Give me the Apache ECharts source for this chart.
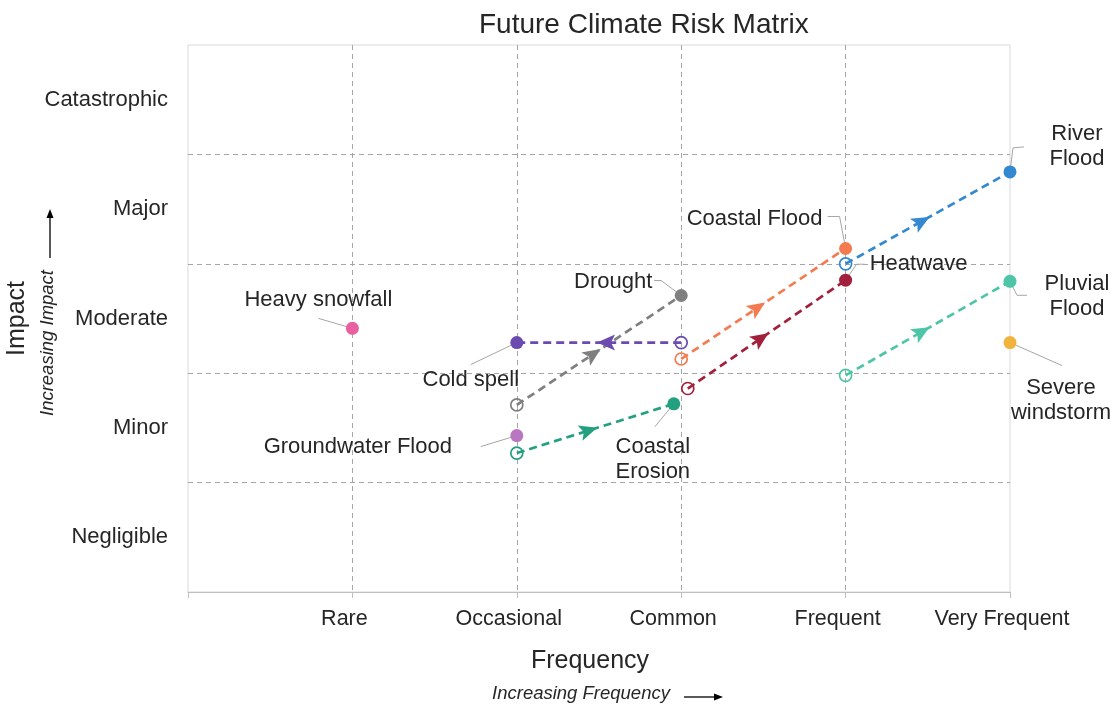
<!DOCTYPE html>
<html><head><meta charset="utf-8">
<script src="https://cdn.jsdelivr.net/npm/echarts@6/dist/echarts.min.js"></script>
<style>html,body{margin:0;padding:0;background:#fff}#main{width:1113px;height:706px}</style>
</head><body><div id="main"></div>
<script>
// ---- data ----
const freqLabels = ['', 'Rare', 'Occasional', 'Common', 'Frequent', 'Very Frequent'];
const impactLabels = ['Negligible', 'Minor', 'Moderate', 'Major', 'Catastrophic'];
const risks = ['River Flood', 'Coastal Flood', 'Heatwave', 'Pluvial Flood', 'Severe windstorm',
  'Drought', 'Cold spell', 'Heavy snowfall', 'Groundwater Flood', 'Coastal Erosion'];
const riskLabels = ['River\nFlood', 'Coastal Flood', 'Heatwave', 'Pluvial\nFlood', 'Severe\nwindstorm',
  'Drought', 'Cold spell', 'Heavy snowfall', 'Groundwater Flood', 'Coastal\nErosion'];
const currentFreq = [4, 3, 3.04, 4, null, 2, 3, null, null, 2];
const currentImpact = [3.0, 2.13, 1.86, 1.98, null, 1.71, 2.28, null, null, 1.27];
const futureFreq = [5, 4, 4, 5, 5, 3, 2, 1, 2, 2.955];
const futureImpact = [3.84, 3.14, 2.85, 2.84, 2.28, 2.71, 2.28, 2.41, 1.43, 1.72];

// ---- styles (pixel offsets of labels and leader lines, colours) ----
const colors = ['#3388d0', '#f37b4f', '#a2203b', '#4ec5a6', '#f0b43c',
  '#7f7f7f', '#6b4bb0', '#e8609f', '#b977c1', '#22a07f'];
const labelOffsets = [[67, -25], [-91, -30], [73, -16], [67, 15], [51, 58],
  [-68, -14], [-46, 37], [-34, -28], [-159, 11], [-21, 56]];
const leaderPaths = [
  [[0, 0], [3, -24], [14, -25]],
  [[0, 0], [-6, -32], [-18, -32]],
  [[0, 0], [11, -16], [19, -16]],
  [[0, 0], [7, 14], [17, 14]],
  [[0, 0], [52, 23]],
  [[0, 0], [-20, -15], [-27, -15]],
  [[0, 0], [-46, 22]],
  [[0, 0], [-34, -10]],
  [[0, 0], [-36, 11]],
  [[0, 0], [-19, 23]]
];
const FONT = '"Liberation Sans", Arial, Helvetica, sans-serif';
const TEXT = '#262626';

const trendData = [], trendColors = [], startPts = [], endPts = [];
risks.forEach((r, i) => {
  endPts.push({ name: r, value: [futureFreq[i], futureImpact[i]], itemStyle: { color: colors[i] } });
  if (currentFreq[i] != null) {
    trendData.push([currentFreq[i], currentImpact[i], futureFreq[i], futureImpact[i]]);
    trendColors.push(colors[i]);
    startPts.push({ name: r, value: [currentFreq[i], currentImpact[i]], itemStyle: { borderColor: colors[i] } });
  }
});

function renderTrend(params, api) {
  const a = api.coord([api.value(0), api.value(1)]);
  const b = api.coord([api.value(2), api.value(3)]);
  const c = trendColors[params.dataIndex];
  const dx = b[0] - a[0], dy = b[1] - a[1];
  const L = Math.hypot(dx, dy) || 1;
  const ux = dx / L, uy = dy / L, px = -uy, py = ux;
  const mx = (a[0] + b[0]) / 2, my = (a[1] + b[1]) / 2;
  const tip = [mx + ux * 2, my + uy * 2];
  const back = 18, hw = 8, notch = 14;
  const pts = [
    tip,
    [tip[0] - ux * back + px * hw, tip[1] - uy * back + py * hw],
    [tip[0] - ux * notch, tip[1] - uy * notch],
    [tip[0] - ux * back - px * hw, tip[1] - uy * back - py * hw]
  ];
  return {
    type: 'group', children: [
      { type: 'line', shape: { x1: a[0], y1: a[1], x2: b[0], y2: b[1] },
        style: { stroke: c, lineWidth: 2.7, lineDash: [8, 5], fill: null } },
      { type: 'polygon', shape: { points: pts }, style: { fill: c, stroke: null } }
    ]
  };
}

function renderLeader(params, api) {
  const p = api.coord([api.value(0), api.value(1)]);
  const path = leaderPaths[params.dataIndex];
  return {
    type: 'polyline',
    shape: { points: path.map(o => [p[0] + o[0], p[1] + o[1]]) },
    style: { stroke: '#a6a6a6', lineWidth: 1, fill: null }
  };
}

const chart = echarts.init(document.getElementById('main'));
chart.setOption({
  animation: false,
  backgroundColor: '#ffffff',
  textStyle: { fontFamily: FONT },
  title: {
    text: 'Future Climate Risk Matrix', left: 474, top: 6,
    textStyle: { fontSize: 28, fontWeight: 'normal', color: TEXT, fontFamily: FONT }
  },
  grid: {
    left: 188, right: 103, top: 45, bottom: 114,
    show: true, borderColor: '#d9d9d9', borderWidth: 1, backgroundColor: 'transparent',
    outerBoundsMode: 'none'
  },
  xAxis: {
    type: 'value', min: 0, max: 5, interval: 1,
    name: 'Frequency', nameLocation: 'middle', nameGap: 57,
    nameTextStyle: { fontSize: 25, color: TEXT, fontFamily: FONT, padding: [0, 18, 0, 0] },
    axisLine: { show: true, lineStyle: { color: '#bfbfbf', width: 1 } },
    axisTick: { show: true, length: 6, lineStyle: { color: '#bfbfbf' } },
    axisLabel: {
      formatter: v => freqLabels[Math.round(v)] || '', fontSize: 21.5, color: TEXT,
      fontFamily: FONT, margin: 16, padding: [0, 16, 0, 0]
    },
    splitLine: { show: true, showMinLine: false, showMaxLine: false,
      lineStyle: { color: '#a6a6a6', type: [5, 4], width: 1 } }
  },
  yAxis: [{
    type: 'value', min: 0, max: 5, interval: 1,
    name: 'Impact', nameLocation: 'middle', nameRotate: 90, nameGap: 158,
    nameTextStyle: { fontSize: 25, color: TEXT, fontFamily: FONT },
    axisLine: { show: false }, axisTick: { show: false }, axisLabel: { show: false },
    splitLine: { show: true, showMinLine: false, showMaxLine: false,
      lineStyle: { color: '#a6a6a6', type: [5, 4], width: 1 } }
  }, {
    type: 'category', data: impactLabels, position: 'left', boundaryGap: true,
    axisLine: { show: false }, axisTick: { show: false }, splitLine: { show: false },
    axisLabel: { fontSize: 22, color: TEXT, fontFamily: FONT, margin: 20, padding: [7, 0, 0, 0] }
  }],
  graphic: [
    { type: 'text', x: 581, y: 694, silent: true,
      style: { text: 'Increasing Frequency', fill: TEXT, fontSize: 18.5, fontStyle: 'italic',
        fontFamily: FONT, align: 'center', verticalAlign: 'middle' } },
    { type: 'line', silent: true, shape: { x1: 684, y1: 697, x2: 716, y2: 697 },
      style: { stroke: '#000', lineWidth: 1.3 } },
    { type: 'polygon', silent: true, shape: { points: [[723, 697], [714, 693.5], [714, 700.5]] },
      style: { fill: '#000' } },
    { type: 'text', x: 48, y: 343, rotation: Math.PI / 2, silent: true,
      style: { text: 'Increasing Impact', fill: TEXT, fontSize: 18.5, fontStyle: 'italic',
        fontFamily: FONT, align: 'center', verticalAlign: 'middle' } },
    { type: 'line', silent: true, shape: { x1: 50, y1: 258, x2: 50, y2: 217 },
      style: { stroke: '#000', lineWidth: 1.3 } },
    { type: 'polygon', silent: true, shape: { points: [[50, 209], [46.5, 218], [53.5, 218]] },
      style: { fill: '#000' } }
  ],
  series: [
    {
      type: 'custom', name: 'Leaders', xAxisIndex: 0, yAxisIndex: 0, z: 2, silent: true,
      encode: { x: 0, y: 1 }, renderItem: renderLeader,
      data: risks.map((r, i) => [futureFreq[i], futureImpact[i]])
    },
    {
      type: 'scatter', name: 'Current', xAxisIndex: 0, yAxisIndex: 0, z: 3, silent: true,
      symbol: 'circle', symbolSize: 12,
      itemStyle: { color: 'rgba(255,255,255,0)', borderWidth: 1.7, opacity: 1 },
      data: startPts
    },
    {
      type: 'custom', name: 'Trend', xAxisIndex: 0, yAxisIndex: 0, z: 4, silent: true,
      encode: { x: [0, 2], y: [1, 3] }, renderItem: renderTrend,
      data: trendData
    },
    {
      type: 'scatter', name: 'Future', xAxisIndex: 0, yAxisIndex: 0, z: 5, silent: true,
      symbol: 'circle', symbolSize: 13,
      itemStyle: { opacity: 1 },
      data: endPts,
      label: {
        show: true, position: 'inside', formatter: p => riskLabels[p.dataIndex],
        color: TEXT, fontSize: 22, fontFamily: FONT, lineHeight: 25, align: 'center',
        textBorderWidth: 0, opacity: 1
      },
      labelLine: { show: false },
      labelLayout: p => ({ dx: labelOffsets[p.dataIndex][0], dy: labelOffsets[p.dataIndex][1] })
    }
  ]
});
</script>
</body></html>
